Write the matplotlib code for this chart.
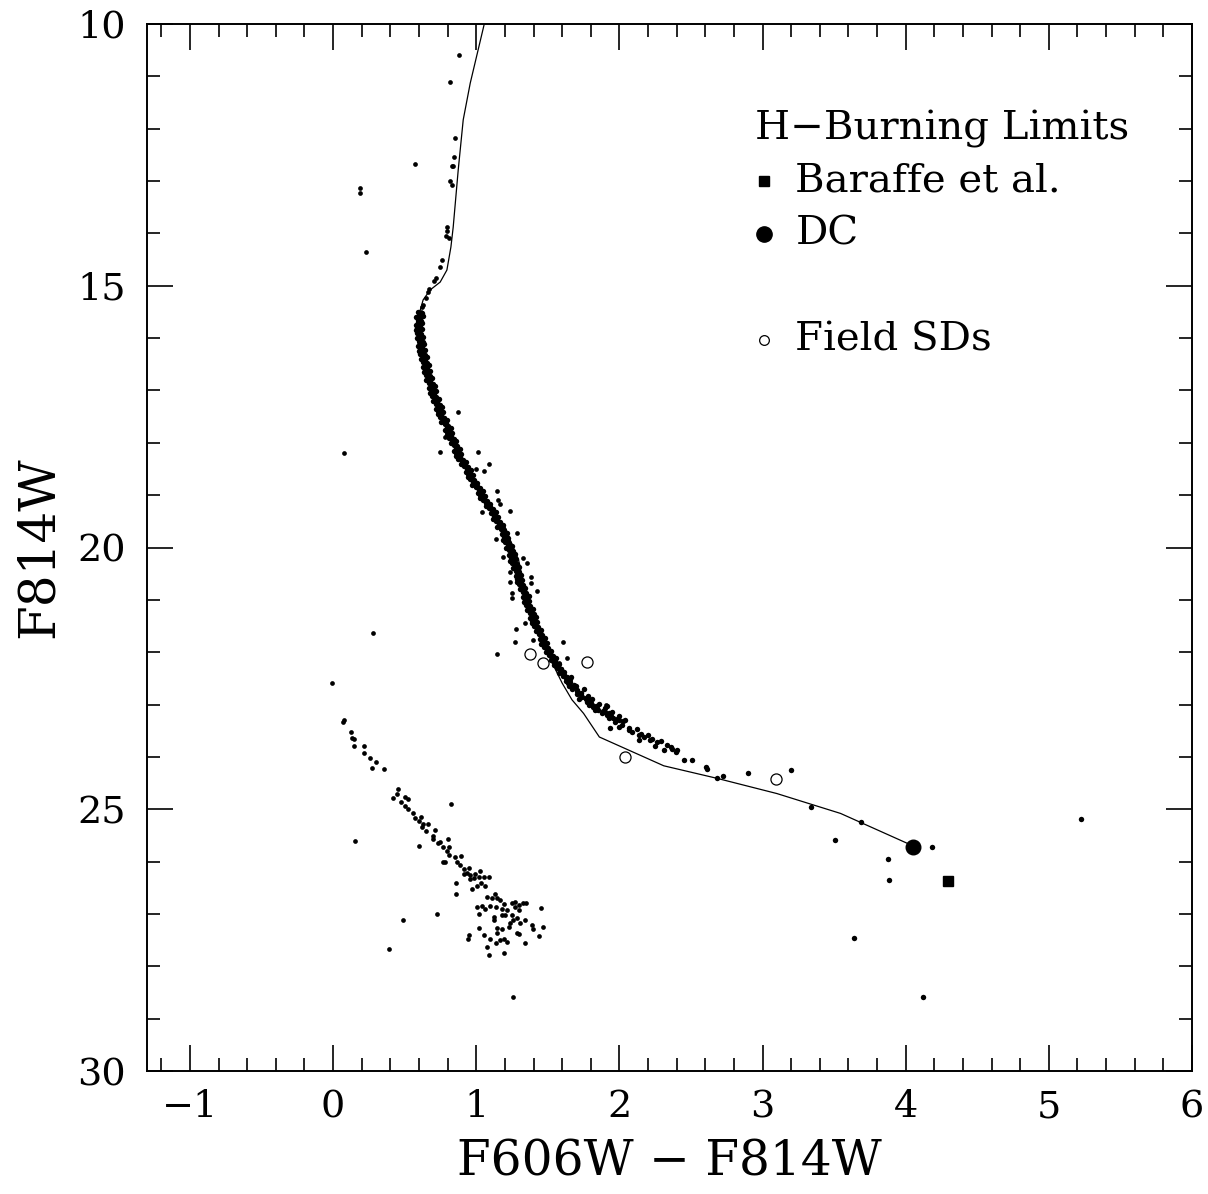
import matplotlib
matplotlib.use("Agg")
import matplotlib.pyplot as plt
from matplotlib.ticker import MultipleLocator

plt.rcParams["font.family"] = ["DejaVu Serif"]
plt.rcParams["axes.unicode_minus"] = True

# cluster main sequence (color, mag)
ms_stars = [
    (0.592, 15.50), (0.622, 15.52), (0.601, 15.55), (0.629, 15.57), (0.580, 15.60), (0.608, 15.62),
    (0.591, 15.65), (0.617, 15.67), (0.596, 15.70), (0.624, 15.72), (0.579, 15.75), (0.607, 15.77),
    (0.586, 15.80), (0.620, 15.82), (0.576, 15.85), (0.602, 15.87), (0.585, 15.90), (0.615, 15.92),
    (0.599, 15.95), (0.627, 15.97), (0.583, 16.00), (0.611, 16.02), (0.600, 16.05), (0.626, 16.07),
    (0.610, 16.10), (0.638, 16.12), (0.596, 16.15), (0.624, 16.17), (0.606, 16.20), (0.640, 16.22),
    (0.598, 16.25), (0.624, 16.27), (0.610, 16.30), (0.640, 16.32), (0.626, 16.35), (0.654, 16.37),
    (0.612, 16.40), (0.640, 16.42), (0.631, 16.45), (0.657, 16.47), (0.643, 16.50), (0.671, 16.52),
    (0.630, 16.55), (0.658, 16.57), (0.641, 16.60), (0.675, 16.62), (0.634, 16.65), (0.660, 16.67),
    (0.647, 16.70), (0.677, 16.72), (0.664, 16.75), (0.692, 16.77), (0.651, 16.80), (0.679, 16.82),
    (0.670, 16.85), (0.696, 16.87), (0.683, 16.90), (0.711, 16.92), (0.671, 16.95), (0.699, 16.97),
    (0.682, 17.00), (0.716, 17.02), (0.676, 17.05), (0.702, 17.07), (0.690, 17.10), (0.720, 17.12),
    (0.709, 17.15), (0.737, 17.17), (0.697, 17.20), (0.725, 17.22), (0.718, 17.25), (0.744, 17.27),
    (0.733, 17.30), (0.761, 17.32), (0.722, 17.35), (0.750, 17.37), (0.736, 17.40), (0.770, 17.42),
    (0.731, 17.45), (0.757, 17.47), (0.747, 17.50), (0.777, 17.52), (0.767, 17.55), (0.795, 17.57),
    (0.757, 17.60), (0.785, 17.62), (0.779, 17.65), (0.805, 17.67), (0.795, 17.70), (0.823, 17.72),
    (0.785, 17.75), (0.813, 17.77), (0.799, 17.80), (0.833, 17.82), (0.796, 17.85), (0.822, 17.87),
    (0.812, 17.90), (0.842, 17.92), (0.831, 17.95), (0.859, 17.97), (0.821, 18.00), (0.849, 18.02),
    (0.842, 18.05), (0.868, 18.07), (0.858, 18.10), (0.886, 18.12), (0.848, 18.15), (0.876, 18.17),
    (0.862, 18.20), (0.896, 18.22), (0.859, 18.25), (0.885, 18.27), (0.875, 18.30), (0.905, 18.32),
    (0.897, 18.35), (0.925, 18.37), (0.890, 18.40), (0.918, 18.42), (0.914, 18.45), (0.940, 18.47),
    (0.933, 18.50), (0.961, 18.52), (0.925, 18.55), (0.953, 18.57), (0.941, 18.60), (0.975, 18.62),
    (0.939, 18.65), (0.965, 18.67), (0.957, 18.70), (0.987, 18.72), (0.980, 18.75), (1.008, 18.77),
    (0.973, 18.80), (1.001, 18.82), (0.999, 18.85), (1.025, 18.87), (1.018, 18.90), (1.046, 18.92),
    (1.011, 18.95), (1.039, 18.97), (1.028, 19.00), (1.062, 19.02), (1.028, 19.05), (1.054, 19.07),
    (1.047, 19.10), (1.077, 19.12), (1.071, 19.15), (1.099, 19.17), (1.066, 19.20), (1.094, 19.22),
    (1.092, 19.25), (1.118, 19.27), (1.113, 19.30), (1.141, 19.32), (1.105, 19.35), (1.133, 19.37),
    (1.121, 19.40), (1.155, 19.42), (1.119, 19.45), (1.145, 19.47), (1.137, 19.50), (1.167, 19.52),
    (1.158, 19.55), (1.186, 19.57), (1.148, 19.60), (1.176, 19.62), (1.171, 19.65), (1.197, 19.67),
    (1.188, 19.70), (1.216, 19.72), (1.177, 19.75), (1.205, 19.77), (1.191, 19.80), (1.225, 19.82),
    (1.186, 19.85), (1.212, 19.87), (1.202, 19.90), (1.232, 19.92), (1.220, 19.95), (1.248, 19.97),
    (1.208, 20.00), (1.236, 20.02), (1.229, 20.05), (1.255, 20.07), (1.243, 20.10), (1.271, 20.12),
    (1.231, 20.15), (1.259, 20.17), (1.244, 20.20), (1.278, 20.22), (1.238, 20.25), (1.264, 20.27),
    (1.252, 20.30), (1.282, 20.32), (1.269, 20.35), (1.297, 20.37), (1.256, 20.40), (1.284, 20.42),
    (1.275, 20.45), (1.301, 20.47), (1.288, 20.50), (1.316, 20.52), (1.276, 20.55), (1.304, 20.57),
    (1.288, 20.60), (1.322, 20.62), (1.283, 20.65), (1.309, 20.67), (1.297, 20.70), (1.327, 20.72),
    (1.315, 20.75), (1.343, 20.77), (1.304, 20.80), (1.332, 20.82), (1.324, 20.85), (1.350, 20.87),
    (1.338, 20.90), (1.366, 20.92), (1.326, 20.95), (1.354, 20.97), (1.338, 21.00), (1.372, 21.02),
    (1.333, 21.05), (1.359, 21.07), (1.347, 21.10), (1.377, 21.12), (1.365, 21.15), (1.393, 21.17),
    (1.354, 21.20), (1.382, 21.22), (1.374, 21.25), (1.400, 21.27), (1.388, 21.30), (1.416, 21.32),
    (1.378, 21.35), (1.406, 21.37), (1.391, 21.40), (1.425, 21.42), (1.387, 21.45), (1.413, 21.47),
    (1.402, 21.50), (1.432, 21.52), (1.423, 21.55), (1.451, 21.57), (1.414, 21.60), (1.442, 21.62),
    (1.436, 21.65), (1.462, 21.67), (1.453, 21.70), (1.481, 21.72), (1.444, 21.75), (1.472, 21.77),
    (1.459, 21.80), (1.493, 21.82), (1.455, 21.85), (1.481, 21.87), (1.472, 21.90), (1.502, 21.92),
    (1.494, 21.95), (1.522, 21.97), (1.486, 22.00), (1.514, 22.02), (1.510, 22.05), (1.536, 22.07),
    (1.528, 22.10), (1.556, 22.12), (1.523, 22.15), (1.551, 22.17), (1.541, 22.20), (1.575, 22.22),
    (1.542, 22.25), (1.568, 22.27), (1.562, 22.30), (1.592, 22.32), (1.587, 22.35), (1.615, 22.37),
    (1.581, 22.40), (1.609, 22.42), (1.608, 22.45), (1.634, 22.47), (1.628, 22.50), (1.656, 22.52),
    (1.625, 22.55), (1.653, 22.57), (1.646, 22.60), (1.680, 22.62), (1.649, 22.65), (1.675, 22.67),
    (1.672, 22.70), (1.702, 22.72), (1.704, 22.75), (1.732, 22.77), (1.706, 22.80), (1.734, 22.82),
    (1.740, 22.85), (1.766, 22.87), (1.768, 22.90), (1.796, 22.92), (1.775, 22.95), (1.803, 22.97),
    (1.806, 23.00), (1.840, 23.02), (1.819, 23.05), (1.845, 23.07), (1.852, 23.10), (1.882, 23.12),
    (1.897, 23.15), (1.925, 23.17), (1.911, 23.20), (1.939, 23.22), (1.958, 23.25), (1.984, 23.27),
    (1.998, 23.30), (2.026, 23.32),
    # ridge-line stars, where the sequence is thickest
    (0.700, 17.03), (0.711, 17.13), (0.727, 17.23), (0.741, 17.33), (0.752, 17.43), (0.772, 17.53),
    (0.788, 17.63), (0.800, 17.73), (0.819, 17.83), (0.836, 17.93), (0.851, 18.03), (0.864, 18.13),
    (0.882, 18.23), (0.901, 18.33), (0.918, 18.43), (0.943, 18.53), (0.960, 18.63), (0.984, 18.73),
    (1.006, 18.83), (1.025, 18.93), (1.051, 19.03), (1.073, 19.13), (1.095, 19.23), (1.123, 19.33),
    (1.140, 19.43), (1.162, 19.53), (1.178, 19.63), (1.195, 19.73), (1.208, 19.83), (1.226, 19.93),
    (1.238, 20.03), (1.248, 20.13), (1.263, 20.23), (1.275, 20.33), (1.282, 20.43), (1.296, 20.53),
    (1.305, 20.63), (1.321, 20.73), (1.330, 20.83), (1.345, 20.93), (1.357, 21.03), (1.368, 21.13),
    (1.383, 21.23), (1.394, 21.33), (1.411, 21.43), (1.426, 21.53), (1.441, 21.63), (1.461, 21.73),
    (1.477, 21.83), (1.497, 21.93), (1.515, 22.03), (1.539, 22.13), (1.561, 22.23), (1.589, 22.33),
    (1.612, 22.43),
    # lower main sequence tail
    (1.64, 22.58), (1.66, 22.47), (1.70, 22.64), (1.72, 22.90), (1.75, 22.71), (1.78, 22.84),
    (1.79, 23.00), (1.81, 22.90), (1.83, 23.10), (1.86, 22.98), (1.88, 23.17), (1.90, 23.07),
    (1.93, 23.26), (1.95, 23.15), (1.97, 23.33), (2.00, 23.22), (2.02, 23.40), (2.04, 23.30),
    (2.07, 23.44), (2.09, 23.52), (2.12, 23.47), (2.15, 23.56), (2.17, 23.62), (2.20, 23.58),
    (2.23, 23.66), (2.26, 23.72), (2.29, 23.70), (2.33, 23.78), (2.36, 23.82), (2.40, 23.86),
    (1.914, 23.03), (1.933, 23.45), (1.995, 23.42), (2.066, 23.49), (2.136, 23.58), (2.136, 23.68),
    (2.217, 23.68), (2.252, 23.80), (2.310, 23.87), (2.367, 23.84), (2.392, 23.90), (2.450, 24.06),
    (2.507, 24.06), (2.608, 24.19), (2.613, 24.24), (2.683, 24.40), (2.724, 24.36), (2.897, 24.31),
    (3.200, 24.25), (3.336, 24.96), (3.503, 25.59), (3.690, 25.25), (3.876, 25.95), (4.186, 25.73),
    (3.880, 26.36), (3.636, 27.45), (4.119, 28.59), (5.224, 25.19),
]

# subgiants, turnoff and scattered field stars
other_stars = [
    (0.883, 10.59), (0.818, 11.10), (0.851, 12.17), (0.844, 12.55), (0.837, 12.71), (0.828, 12.71),
    (0.818, 13.00), (0.834, 13.07), (0.573, 12.67), (0.797, 13.88), (0.797, 13.95), (0.790, 14.05),
    (0.811, 14.08), (0.759, 14.51), (0.745, 14.65), (0.720, 14.85), (0.706, 14.91), (0.673, 15.07),
    (0.666, 15.11), (0.650, 15.24), (0.627, 15.37), (0.620, 15.40), (0.615, 15.50), (0.608, 15.56),
    (0.597, 15.62), (0.189, 13.13), (0.189, 13.23), (0.231, 14.36), (0.077, 18.19), (0.280, 21.63),
    (0.870, 17.42), (0.748, 18.17), (1.010, 18.17), (1.086, 18.41), (1.051, 18.53), (1.000, 18.51),
    (1.144, 18.92), (1.149, 19.09), (1.168, 19.17), (1.238, 19.31), (1.040, 19.33), (1.288, 19.72),
    (1.330, 20.21), (1.140, 19.84), (1.187, 20.19), (0.783, 17.88), (0.597, 16.07), (1.354, 20.30),
    (1.233, 20.46), (1.381, 20.56), (1.238, 20.65), (1.381, 20.68), (1.423, 20.84), (1.250, 20.87),
    (1.250, 20.97), (1.343, 21.45), (1.278, 21.56), (1.273, 21.81), (1.395, 21.77), (1.605, 21.80),
    (1.144, 22.03), (1.633, 22.12), (1.575, 22.21), (1.909, 23.00),
]

# white dwarf sequence
wd_stars = [
    (-0.009, 22.59), (0.077, 23.29), (0.072, 23.34), (0.124, 23.53), (0.131, 23.63), (0.147, 23.66),
    (0.147, 23.80), (0.217, 23.79), (0.217, 23.93), (0.259, 24.02), (0.301, 24.10), (0.271, 24.22),
    (0.353, 24.24), (0.451, 24.61), (0.448, 24.71), (0.420, 24.78), (0.504, 24.77), (0.525, 24.81),
    (0.473, 24.86), (0.504, 24.94), (0.525, 25.00), (0.556, 25.07), (0.573, 25.17), (0.612, 25.15),
    (0.597, 25.22), (0.631, 25.28), (0.620, 25.33), (0.666, 25.28), (0.650, 25.41), (0.603, 25.70),
    (0.701, 25.52), (0.701, 25.56), (0.715, 25.40), (0.736, 25.65), (0.748, 25.63), (0.806, 25.57),
    (0.771, 25.73), (0.794, 25.79), (0.813, 25.73), (0.825, 24.90), (0.771, 26.00), (0.783, 26.01),
    (0.813, 25.87), (0.853, 25.91), (0.864, 26.00), (0.892, 25.89), (0.888, 26.07), (0.911, 26.14),
    (0.911, 26.24), (0.951, 26.13), (0.934, 26.22), (0.958, 26.26), (0.986, 26.31), (0.953, 26.34),
    (0.993, 26.24), (1.016, 26.29), (1.023, 26.18), (0.969, 26.53), (1.004, 26.47), (1.031, 26.41),
    (1.051, 26.30), (1.063, 26.46), (1.086, 26.30), (1.074, 26.68), (1.004, 26.86), (1.039, 26.84),
    (1.063, 26.90), (1.098, 26.84), (1.108, 26.70), (1.133, 26.61), (1.144, 26.70), (1.168, 26.74),
    (1.140, 26.87), (1.178, 26.90), (1.197, 26.81), (1.268, 26.77), (1.300, 26.82), (1.248, 26.80),
    (1.271, 26.86), (1.324, 26.80), (1.346, 26.80), (1.215, 26.93), (1.248, 27.02), (1.178, 27.02),
    (1.203, 27.02), (1.296, 26.93), (1.260, 27.12), (1.284, 27.08), (1.238, 27.18), (1.308, 27.18),
    (1.343, 27.12), (1.389, 27.21), (1.393, 27.29), (1.455, 26.88), (1.467, 27.24), (1.436, 27.43),
    (1.338, 27.56), (1.284, 27.37), (1.302, 27.39), (1.226, 27.24), (1.178, 27.29), (1.144, 27.27),
    (1.121, 27.05), (1.121, 27.12), (1.144, 27.37), (1.168, 27.49), (1.191, 27.47), (1.215, 27.53),
    (1.191, 27.74), (1.138, 27.56), (1.098, 27.47), (1.074, 27.63), (1.086, 27.78), (1.051, 27.40),
    (1.016, 27.27), (0.946, 27.40), (0.939, 27.48), (1.016, 27.01), (0.858, 26.40), (0.858, 26.61),
    (0.729, 27.01), (0.486, 27.12), (0.393, 27.66), (0.154, 25.61), (1.257, 28.59),
]

# isochrone
iso_col = [1.056, 0.958, 0.909, 0.874, 0.839, 0.823, 0.795, 0.748, 0.678, 0.629, 0.605, 0.598,
           0.607, 0.645, 0.696, 0.765, 0.845, 0.935, 1.042, 1.140, 1.200, 1.238, 1.296, 1.330,
           1.390, 1.460, 1.530, 1.600, 1.669, 1.750, 1.860, 2.310, 2.683, 3.100, 3.545, 4.035]
iso_mag = [10.00, 11.13, 11.83, 12.79, 13.88, 14.26, 14.70, 14.93, 15.08, 15.27, 15.50, 15.70,
           16.00, 16.50, 17.00, 17.50, 18.00, 18.50, 19.00, 19.40, 19.60, 19.86, 20.24, 20.70,
           21.30, 21.80, 22.20, 22.59, 22.91, 23.17, 23.62, 24.17, 24.41, 24.70, 25.08, 25.68]

# field subdwarfs
sd_col = [1.378, 1.464, 1.774, 2.042, 3.091]
sd_mag = [22.03, 22.21, 22.18, 24.00, 24.42]

# H-burning limits
dc_limit = (4.05, 25.72)
baraffe_limit = (4.294, 26.38)

fig = plt.figure(figsize=(12.08, 11.94), dpi=100)
ax = fig.add_axes([147 / 1208, 1 - 1071 / 1194, 1045 / 1208, 1047 / 1194])

ax.plot(iso_col, iso_mag, color="black", lw=0.9, zorder=2)

for stars, size in ((ms_stars, 3.9), (other_stars, 3.4), (wd_stars, 3.4)):
    xs = [s[0] for s in stars]
    ys = [s[1] for s in stars]
    ax.plot(xs, ys, "o", color="black", ms=size, mew=0, zorder=3)

ax.plot(sd_col, sd_mag, "o", mfc="white", mec="black", ms=8, mew=0.9, zorder=4)
ax.plot(*dc_limit, "o", color="black", ms=10.5, zorder=4)
ax.plot(*baraffe_limit, "s", color="black", ms=7, zorder=4)

# legend drawn by hand
ax.text(2.95, 12.0, "H\u2212Burning Limits", fontsize=29, va="center", ha="left")
ax.plot(3.007, 13.0, "s", color="black", ms=7.5)
ax.text(3.23, 13.0, "Baraffe et al.", fontsize=29, va="center", ha="left")
ax.plot(3.007, 14.02, "o", color="black", ms=11)
ax.text(3.23, 14.02, "DC", fontsize=29, va="center", ha="left")
ax.plot(3.007, 16.03, "o", mfc="white", mec="black", ms=7, mew=0.9)
ax.text(3.23, 16.03, "Field SDs", fontsize=29, va="center", ha="left")

ax.set_xlim(-1.3, 6)
ax.set_ylim(30, 10)
ax.xaxis.set_major_locator(MultipleLocator(1))
ax.xaxis.set_minor_locator(MultipleLocator(0.2))
ax.yaxis.set_major_locator(MultipleLocator(5))
ax.yaxis.set_minor_locator(MultipleLocator(1))
ax.tick_params(which="both", direction="in", top=True, right=True, width=1.2)
ax.tick_params(which="major", length=19, labelsize=27.5)
ax.tick_params(axis="x", which="major", pad=13)
ax.tick_params(axis="y", which="major", pad=15)
ax.tick_params(which="minor", length=9.5)
for sp in ax.spines.values():
    sp.set_linewidth(1.4)

ax.set_xlabel("F606W \u2212 F814W", fontsize=35, labelpad=10)
ax.set_ylabel("F814W", fontsize=36, labelpad=10)

fig.savefig("out.png", dpi=100)
